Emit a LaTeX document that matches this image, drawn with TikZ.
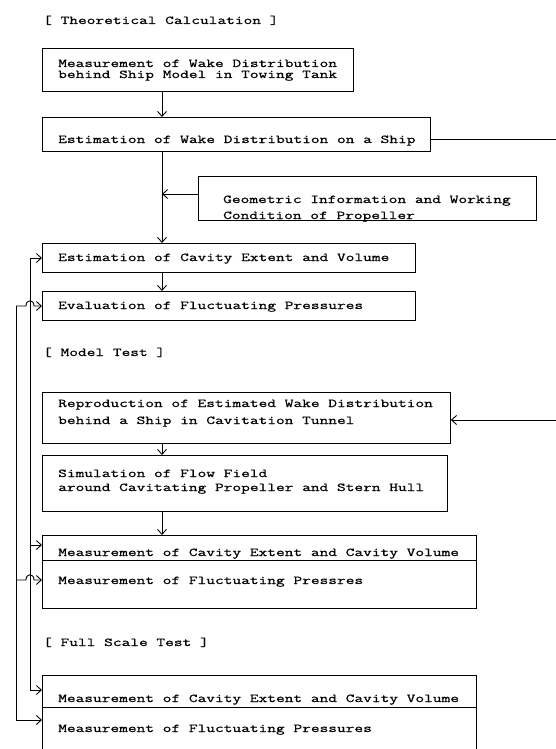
\documentclass[tikz,border=0pt]{standalone}
\usepackage{fontspec}
\setmonofont[FakeStretch=1.41,FakeBold=0.8]{Latin Modern Mono}
\usetikzlibrary{arrows.meta}
\begin{document}
\begin{tikzpicture}[x=1pt,y=-1pt,
  box/.style={draw=black,line width=0.9pt,rectangle,inner sep=0pt,anchor=north west},
  txt/.style={inner sep=0pt,anchor=base west,font=\ttfamily\fontsize{12}{12}\selectfont},
  ln/.style={line width=0.9pt},
  arr/.style={line width=0.9pt,-{Straight Barb[length=5pt,width=9pt]}}]
\useasboundingbox (0,0) rectangle (556,749);
\clip (0,0) rectangle (556,749);
% boxes
\node[box,minimum width=311pt,minimum height=43pt] (b1) at (42,48) {};
\node[box,minimum width=388pt,minimum height=34pt] (b2) at (42,117) {};
\node[box,minimum width=338pt,minimum height=44pt] (geo) at (198,176) {};
\node[box,minimum width=373pt,minimum height=29pt] (cav) at (42,243) {};
\node[box,minimum width=373pt,minimum height=29pt] (evl) at (42,291) {};
\node[box,minimum width=408pt,minimum height=51pt] (rep) at (42,392) {};
\node[box,minimum width=405pt,minimum height=56pt] (sim) at (42,455) {};
\node[box,minimum width=434pt,minimum height=73pt] (mdl) at (42,535) {};
\node[box,minimum width=434pt,minimum height=100pt] (ful) at (42,675) {};
% dividers
\draw[ln] (mdl.west |- 0,560) -- (mdl.east |- 0,560);
\draw[ln] (ful.west |- 0,707) -- (ful.east |- 0,707);
% texts
\node[txt] (t0) at (43,24) {[ Theoretical Calculation ]};
\node[txt] (t1a) at (58,67) {Measurement of Wake Distribution};
\node[txt] (t1b) at (58,78) {behind Ship Model in Towing Tank};
\node[txt] (t2) at (58,143) {Estimation of Wake Distribution on a Ship};
\node[txt] (tga) at (223,203) {Geometric Information and Working};
\node[txt] (tgb) at (223,219) {Condition of Propeller};
\node[txt] (tc) at (58,261) {Estimation of Cavity Extent and Volume};
\node[txt] (te) at (58,309) {Evaluation of Fluctuating Pressures};
\node[txt] (tm) at (43,356) {[ Model Test ]};
\node[txt] (tra) at (58,407) {Reproduction of Estimated Wake Distribution};
\node[txt] (trb) at (58,424) {behind a Ship in Cavitation Tunnel};
\node[txt] (tsa) at (58,477) {Simulation of Flow Field};
\node[txt] (tsb) at (58,491) {around Cavitating Propeller and Stern Hull};
\node[txt] (tma) at (58,556) {Measurement of Cavity Extent and Cavity Volume};
\node[txt] (tmb) at (58,584) {Measurement of Fluctuating Pressres};
\node[txt] (tf) at (43,646) {[ Full Scale Test ]};
\node[txt] (tfa) at (58,702) {Measurement of Cavity Extent and Cavity Volume};
\node[txt] (tfb) at (58,732) {Measurement of Fluctuating Pressures};
% trunk connectors
\coordinate (tr) at (162,0);
\draw[arr] (b1.south -| tr) -- (b2.north -| tr);
\draw[arr] (b2.south -| tr) -- (cav.north -| tr);
\coordinate (gj) at (162,194);
\draw[arr] (geo.west |- gj) -- (gj);
\draw[arr] (cav.south -| tr) -- (evl.north -| tr);
\draw[arr] (rep.south -| tr) -- (sim.north -| tr);
\draw[arr] (sim.south -| tr) -- (mdl.north -| tr);
% right connector
\coordinate (rr) at (600,139);
\draw[ln] (b2.east |- rr) -- (rr) -- (600,420);
\draw[arr] (600,420) -- (rep.east |- 0,420);
% left comparison lines (inner)
\coordinate (ia) at (30,258);
\coordinate (ib) at (30,545);
\coordinate (ic) at (30,690);
\draw[ln] (ia) -- (ic);
\draw[arr] (ia) -- (cav.west |- ia);
\draw[arr] (ib) -- (mdl.west |- ib);
\draw[arr] (ic) -- (ful.west |- ic);
% left comparison lines (outer)
\coordinate (oa) at (16,306);
\coordinate (ob) at (16,580);
\coordinate (oc) at (16,720);
\draw[ln] (oa) -- (oc);
\draw[arr] (oa) -- (26,306) .. controls (26,299) and (34,299) .. (34,306) -- (evl.west |- oa);
\draw[arr] (ob) -- (26,580) .. controls (26,573) and (34,573) .. (34,580) -- (mdl.west |- ob);
\draw[arr] (oc) -- (ful.west |- oc);
\end{tikzpicture}
\end{document}
